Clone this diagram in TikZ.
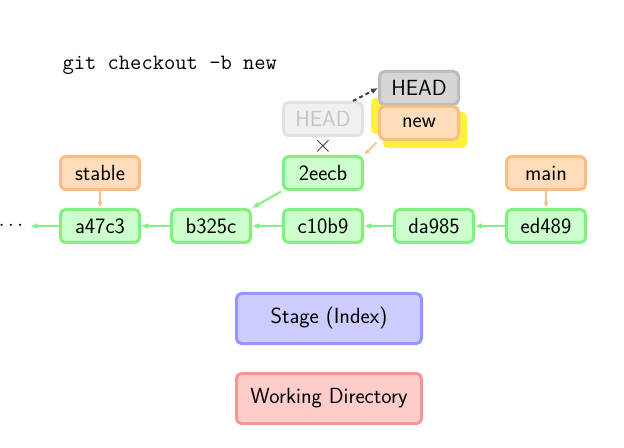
\documentclass[tikz,border=0pt]{standalone}
\usetikzlibrary{arrows.meta,backgrounds}
\definecolor{commitfill}{RGB}{204,255,204}
\definecolor{commitline}{RGB}{128,240,128}
\definecolor{branchfill}{RGB}{255,221,187}
\definecolor{branchline}{RGB}{250,190,130}
\definecolor{headfill}{RGB}{214,214,214}
\definecolor{headline}{RGB}{188,188,188}
\definecolor{oldfill}{RGB}{240,240,240}
\definecolor{oldline}{RGB}{226,226,226}
\definecolor{oldtext}{RGB}{196,196,196}
\definecolor{stagefill}{RGB}{204,204,255}
\definecolor{stageline}{RGB}{150,150,255}
\definecolor{workfill}{RGB}{255,204,204}
\definecolor{workline}{RGB}{245,150,150}
\definecolor{glow}{RGB}{255,240,60}
\tikzset{
  box/.style={rounded corners=5bp,line width=3bp,minimum width=79bp,minimum height=33bp,
    inner sep=0pt,font=\fontsize{22}{26}\selectfont\sffamily},
  commit/.style={box,draw=commitline,fill=commitfill},
  branch/.style={box,draw=branchline,fill=branchfill},
  headbox/.style={box,draw=headline,fill=headfill},
  oldhead/.style={box,draw=oldline,fill=oldfill,text=oldtext},
  area/.style={box,minimum width=185bp,minimum height=50bp},
  parent/.style={commitline,line width=2bp,-{Latex[length=7bp,width=6bp]}},
  ref/.style={branchline,line width=1.5bp,-{Latex[length=6bp,width=5bp]}},
}
\begin{document}
\begin{tikzpicture}[x=1bp,y=-1bp]
\useasboundingbox (0,0) rectangle (624,448);
\node[anchor=west,font=\fontsize{22}{26}\selectfont\ttfamily] (cmd) at (59,65) {git checkout -b new};
\node[commit] (a47c3) at (100,226) {a47c3};
\node[commit] (b325c) at (211,226) {b325c};
\node[commit] (c10b9) at (323,226) {c10b9};
\node[commit] (da985) at (434,226) {da985};
\node[commit] (ed489) at (546,226) {ed489};
\node[commit] (2eecb) at (323,173) {2eecb};
\node[font=\fontsize{22}{26}\selectfont] (more) at (11,226) {$\cdots$};
\node[branch] (stable) at (100,173) {stable};
\node[branch] (main) at (546,173) {main};
\node[oldhead] (oldHEAD) at (323,119) {HEAD};
\node[font=\fontsize{24}{24}\selectfont,text=black!80,inner sep=0pt] (cross) at (323,146) {$\times$};
\node[headbox] (HEAD) at (419,88) {HEAD};
\node[branch] (new) at (419,123) {new};
\begin{scope}[on background layer]
\fill[glow,rounded corners=5bp] ([shift={(-7,-7)}]new.north west) rectangle ([shift={(-5,-7)}]new.south east);
\fill[glow,rounded corners=5bp] ([shift={(5,7)}]new.north west) rectangle ([shift={(7,7)}]new.south east);
\end{scope}
\node[area,draw=stageline,fill=stagefill] (stage) at (329,318.5) {Stage (Index)};
\node[area,draw=workline,fill=workfill] (workdir) at (329,398.5) {Working Directory};
\draw[ref] (stable) -- (a47c3);
\draw[ref] (main) -- (ed489);
\draw[ref,shorten <=2bp] (new.south west) -- (2eecb.north east);
\draw[parent] (ed489) -- (da985);
\draw[parent] (da985) -- (c10b9);
\draw[parent] (c10b9) -- (b325c);
\draw[parent] (b325c) -- (a47c3);
\draw[parent,shorten >=4bp] (a47c3) -- (more);
\draw[parent,shorten <=1bp] (2eecb.south west) -- (b325c.north east);
\draw[black!75,line width=2bp,dash pattern=on 4bp off 3bp,-{Latex[length=7bp,width=6bp]}]
  ([xshift=-11bp]oldHEAD.north east) -- (HEAD.west);
\end{tikzpicture}
\end{document}
